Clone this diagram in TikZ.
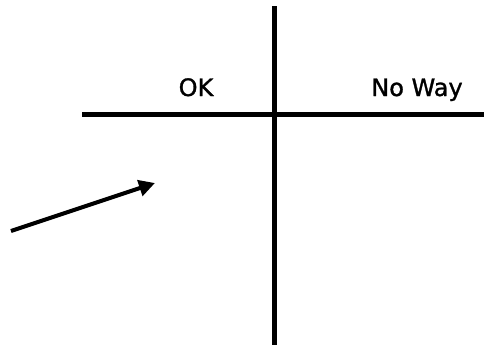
\documentclass[tikz,border=0pt]{standalone}
\usepackage{fontspec}
\setmainfont{DejaVu Sans}
\newfontfamily\lblfont[FakeBold=1.2]{DejaVu Sans}
\usetikzlibrary{arrows.meta}
\begin{document}
\begin{tikzpicture}[x=1pt,y=-1pt,
  axis/.style={line width=5pt,line cap=butt},
  lbl/.style={font=\lblfont\fontsize{24}{28}\selectfont,inner sep=0pt,anchor=base},
  pointer/.style={line width=4pt,-{Triangle[length=16pt,width=16pt]}}]
\useasboundingbox (0,0) rectangle (484,346);
\coordinate (vt) at (274,6);
\coordinate (vb) at (274,345);
\coordinate (hl) at (82,114);
\coordinate (hr) at (484,114);
\draw[axis] (vt) -- (vb);
\draw[axis] (hl) -- (hr);
\node[lbl] (ok) at (196,96) {OK};
\node[lbl] (noway) at (417,96) {No Way};
\coordinate (as) at (11,231);
\coordinate (ae) at (155,183);
\draw[pointer] (as) -- (ae);
\end{tikzpicture}
\end{document}
